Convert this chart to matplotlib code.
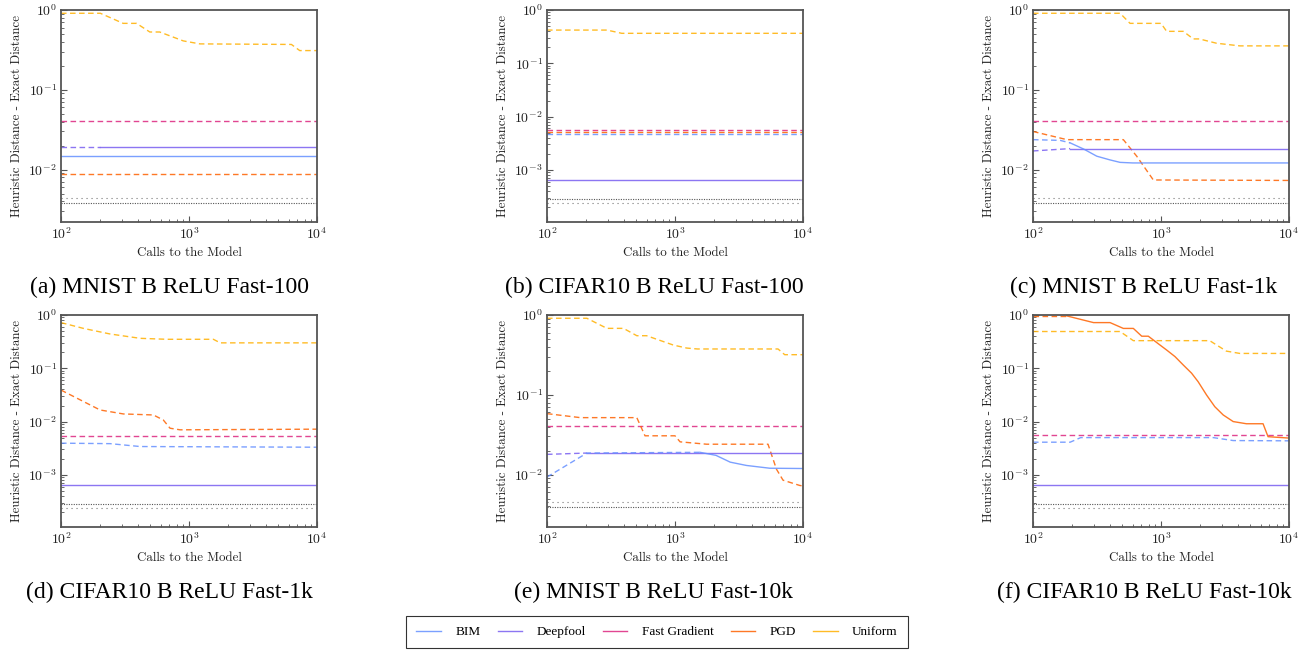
import matplotlib
matplotlib.use("Agg")
import matplotlib.pyplot as plt
from matplotlib.lines import Line2D
import numpy as np

plt.rcParams['font.family'] = ['cmr10', 'DejaVu Serif']
plt.rcParams['mathtext.fontset'] = 'cm'
plt.rcParams['axes.formatter.use_mathtext'] = True

ATTACKS = ['BIM', 'Deepfool', 'Fast Gradient', 'PGD', 'Uniform']
COLORS = {'BIM': '#648FFF', 'Deepfool': '#785EF0', 'Fast Gradient': '#DC267F',
          'PGD': '#FE6100', 'Uniform': '#FFB000'}
CAPTIONS = ['(a) MNIST B ReLU Fast-100', '(b) CIFAR10 B ReLU Fast-100',
            '(c) MNIST B ReLU Fast-1k', '(d) CIFAR10 B ReLU Fast-1k',
            '(e) MNIST B ReLU Fast-10k', '(f) CIFAR10 B ReLU Fast-10k']
ENDS = [100, 10000]

# (a) MNIST Fast-100
a_uniform_x = [100, 203, 306, 389, 494, 590, 902, 1216, 6310, 7330, 10000]
a_uniform = [0.91, 0.91, 0.68, 0.68, 0.53, 0.53, 0.41, 0.376, 0.37, 0.31, 0.31]
a_fgsm = [0.0405, 0.0405]
a_pgd = [0.0087, 0.0087]
a_bim = [0.0147, 0.0147]
a_deepfool_x = [100, 203, 10000]
a_deepfool = [0.0192, 0.0192, 0.0192]
a_exact = [0.0044, 0.00385]
a_solid_from = {'BIM': 100, 'Deepfool': 203}

# (b) CIFAR10 Fast-100
b_uniform_x = [100, 294, 384, 10000]
b_uniform = [0.42, 0.42, 0.365, 0.365]
b_fgsm = [0.0055, 0.0055]
b_pgd = [0.0051, 0.0051]
b_bim = [0.0047, 0.0047]
b_deepfool = [0.00064, 0.00064]
b_exact = [0.00024, 0.00028]
b_solid_from = {'Deepfool': 100}

# (c) MNIST Fast-1k
c_uniform_x = [100, 479, 573, 1000, 1107, 1494, 1786, 1990, 2716, 4130, 10000]
c_uniform = [0.91, 0.91, 0.68, 0.68, 0.54, 0.54, 0.434, 0.434, 0.383, 0.355, 0.355]
c_fgsm = [0.0409, 0.0409]
c_pgd_x = [100, 184, 508, 646, 871, 10000]
c_pgd = [0.030, 0.0237, 0.0237, 0.0147, 0.0074, 0.0073]
c_bim_x = [100, 163, 195, 250, 315, 400, 479, 600, 10000]
c_bim = [0.0237, 0.0232, 0.0216, 0.018, 0.0147, 0.0132, 0.0123, 0.0121, 0.0121]
c_deepfool_x = [100, 195, 10000]
c_deepfool = [0.0171, 0.0183, 0.0183]
c_exact = [0.0044, 0.0038]
c_solid_from = {'BIM': 195, 'Deepfool': 195}

# (d) CIFAR10 Fast-1k
d_uniform_x = [100, 150, 242, 415, 671, 1550, 1754, 10000]
d_uniform = [0.72, 0.56, 0.44, 0.365, 0.35, 0.35, 0.30, 0.30]
d_fgsm = [0.0054, 0.0054]
d_pgd_x = [100, 141, 202, 307, 527, 630, 711, 851, 10000]
d_pgd = [0.039, 0.0256, 0.0165, 0.0139, 0.0133, 0.0107, 0.0075, 0.0070, 0.0072]
d_bim_x = [100, 242, 415, 10000]
d_bim = [0.00393, 0.00385, 0.0034, 0.0033]
d_deepfool = [0.00064, 0.00064]
d_exact = [0.00024, 0.00028]
d_solid_from = {'Deepfool': 100}

# (e) MNIST Fast-10k
e_uniform_x = [100, 205, 294, 396, 503, 600, 970, 1234, 1500, 6380, 7200, 10000]
e_uniform = [0.91, 0.91, 0.68, 0.68, 0.55, 0.55, 0.42, 0.385, 0.375, 0.375, 0.318, 0.318]
e_fgsm = [0.041, 0.041]
e_pgd_x = [100, 182, 503, 583, 1000, 1096, 1766, 5330, 6200, 6980, 9420, 10000]
e_pgd = [0.058, 0.0517, 0.0517, 0.0306, 0.0306, 0.0257, 0.024, 0.024, 0.0117, 0.0085, 0.0073, 0.0072]
e_bim_x = [100, 205, 1568, 2090, 2700, 3617, 5500, 10000]
e_bim = [0.0093, 0.0186, 0.019, 0.0174, 0.0143, 0.013, 0.012, 0.0119]
e_deepfool_x = [100, 205, 10000]
e_deepfool = [0.0179, 0.0186, 0.0186]
e_exact = [0.0045, 0.0039]
e_solid_from = {'BIM': 1568, 'Deepfool': 205}

# (f) CIFAR10 Fast-10k
f_uniform_x = [100, 479, 608, 2400, 3240, 4130, 10000]
f_uniform = [0.49, 0.49, 0.33, 0.33, 0.21, 0.19, 0.19]
f_fgsm = [0.0055, 0.0055]
f_pgd_x = [100, 184, 297, 400, 508, 608, 707, 796, 950, 1107, 1285, 1494, 1733,
           1950, 2268, 2633, 3062, 3664, 4645, 6270, 6860, 10000]
f_pgd = [0.96, 0.96, 0.72, 0.72, 0.56, 0.56, 0.40, 0.40, 0.29, 0.22, 0.166, 0.115, 0.081,
         0.056, 0.0316, 0.019, 0.0133, 0.010, 0.0091, 0.0091, 0.0052, 0.0049]
f_bim_x = [100, 195, 236, 2560, 3664, 10000]
f_bim = [0.0041, 0.0041, 0.0050, 0.0050, 0.0044, 0.00435]
f_deepfool = [0.00064, 0.00064]
f_exact = [0.00024, 0.00028]
f_solid_from = {'PGD': 184, 'Deepfool': 100}

panels = [
    ({'Uniform': (a_uniform_x, a_uniform), 'Fast Gradient': (ENDS, a_fgsm), 'PGD': (ENDS, a_pgd),
      'BIM': (ENDS, a_bim), 'Deepfool': (a_deepfool_x, a_deepfool)}, a_exact, a_solid_from, 2.2e-3),
    ({'Uniform': (b_uniform_x, b_uniform), 'Fast Gradient': (ENDS, b_fgsm), 'PGD': (ENDS, b_pgd),
      'BIM': (ENDS, b_bim), 'Deepfool': (ENDS, b_deepfool)}, b_exact, b_solid_from, 1.05e-4),
    ({'Uniform': (c_uniform_x, c_uniform), 'Fast Gradient': (ENDS, c_fgsm), 'PGD': (c_pgd_x, c_pgd),
      'BIM': (c_bim_x, c_bim), 'Deepfool': (c_deepfool_x, c_deepfool)}, c_exact, c_solid_from, 2.2e-3),
    ({'Uniform': (d_uniform_x, d_uniform), 'Fast Gradient': (ENDS, d_fgsm), 'PGD': (d_pgd_x, d_pgd),
      'BIM': (d_bim_x, d_bim), 'Deepfool': (ENDS, d_deepfool)}, d_exact, d_solid_from, 1.05e-4),
    ({'Uniform': (e_uniform_x, e_uniform), 'Fast Gradient': (ENDS, e_fgsm), 'PGD': (e_pgd_x, e_pgd),
      'BIM': (e_bim_x, e_bim), 'Deepfool': (e_deepfool_x, e_deepfool)}, e_exact, e_solid_from, 2.2e-3),
    ({'Uniform': (f_uniform_x, f_uniform), 'Fast Gradient': (ENDS, f_fgsm), 'PGD': (f_pgd_x, f_pgd),
      'BIM': (f_bim_x, f_bim), 'Deepfool': (ENDS, f_deepfool)}, f_exact, f_solid_from, 1.05e-4),
]

W, H = 1307, 650
fig = plt.figure(figsize=(W / 100, H / 100), dpi=100)

lefts = [61, 547, 1033]
tops = [10, 315]
cap_x = [169, 654, 1144]
cap_y = [287, 592]


def draw_series(ax, name, xs, ys, solid_from):
    xs = np.asarray(xs, dtype=float)
    ys = np.asarray(ys, dtype=float)
    col = COLORS[name]
    s = solid_from if solid_from is not None else np.inf
    if s > xs[0]:
        # dashed part up to the switch point
        xd = np.append(xs[xs < s], min(s, xs[-1]))
        yd = np.interp(np.log(xd), np.log(xs), ys)
        ax.plot(xd, yd, color=col, lw=1.0, alpha=0.85, dashes=(4, 2.5))
    if s < xs[-1]:
        xsd = np.insert(xs[xs > s], 0, s)
        ysd = np.interp(np.log(xsd), np.log(xs), ys)
        ax.plot(xsd, ysd, color=col, lw=1.0, alpha=0.85)


for i, (series, exact, solid_from, ymin) in enumerate(panels):
    r, c = divmod(i, 3)
    ax = fig.add_axes([lefts[c] / W, 1 - (tops[r] + 212) / H, 256 / W, 212 / H])
    for name in ['Uniform', 'Fast Gradient', 'PGD', 'Deepfool', 'BIM']:
        xs, ys = series[name]
        draw_series(ax, name, xs, ys, solid_from.get(name))
    ax.plot(ENDS, [exact[0]] * 2, color='#777777', lw=0.8, dashes=(1, 3.5))
    ax.plot(ENDS, [exact[1]] * 2, color='#555555', lw=0.8, dashes=(1, 1.2))
    ax.set_xscale('log')
    ax.set_yscale('log')
    ax.set_xlim(100, 10000)
    ax.set_ylim(ymin, 1.0)
    for sp in ax.spines.values():
        sp.set_color('#555555')
        sp.set_linewidth(1.3)
    ax.tick_params(which='both', direction='in', colors='#555555', labelcolor='#222222',
                   labelsize=10)
    ax.tick_params(which='major', length=4, width=0.8, pad=3)
    ax.tick_params(which='minor', length=2.5, width=0.6)
    ax.set_xlabel('Calls to the Model', fontsize=9.3, color='#222222')
    ax.set_ylabel('Heuristic Distance - Exact Distance', fontsize=9.3, color='#222222')
    ax.xaxis.set_label_coords(0.5, -0.118)
    ax.yaxis.set_label_coords(-0.15, 0.5)
    fig.text(cap_x[c] / W, 1 - cap_y[r] / H, CAPTIONS[i], ha='center', va='center',
             fontsize=17, family='Liberation Serif')

handles = [Line2D([], [], color=COLORS[n], lw=1.0, alpha=0.85) for n in ATTACKS]
leg = fig.legend(handles, ATTACKS, loc='center', bbox_to_anchor=(657 / W, 1 - 632 / H),
                 ncol=5, frameon=True, fancybox=False, edgecolor='black',
                 prop={'family': 'Liberation Serif', 'size': 9.5},
                 handlelength=1.85, handletextpad=1.1, columnspacing=1.3,
                 borderpad=0.75, borderaxespad=0)
leg.get_frame().set_linewidth(0.8)

fig.savefig('out.png', dpi=100)
